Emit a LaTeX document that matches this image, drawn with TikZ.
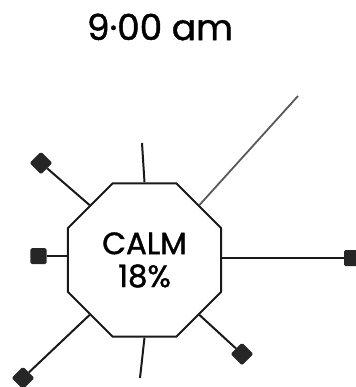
\documentclass[tikz,border=0pt]{standalone}
\usepackage{fontspec}
\setmainfont{Poppins}[UprightFeatures={FakeBold=1.2}]
\usetikzlibrary{shapes.geometric}

\begin{document}
\begin{tikzpicture}[
      x=1bp, y=-1bp,
      dial/.style={regular polygon, regular polygon sides=8,
        minimum size=166bp, inner sep=0pt, draw=black!90,
        line width=2bp, fill=white, align=center,
        font=\fontsize{31}{33}\selectfont},
      sqbox/.style={rectangle, fill=black!85, minimum size=16bp,
        inner sep=0pt, rounded corners=1.5bp},
      spoke/.style={draw=black!90, line width=2bp},
      gust/.style={draw=black!65, line width=1.8bp}
    ]
    \useasboundingbox (0,0) rectangle (356,387);

    \node[font=\fontsize{36}{38}\selectfont] (time) at (160,27) {9·00 am};

    \node[dial] (calm) at (144.5,260) {CALM\\18\%};

    % stations round the dial
    \node[sqbox, rotate=45] (nw) at (41,163) {};
    \node[sqbox] (w) at (38.5,256) {};
    \node[sqbox, rotate=45] (sw) at (23,378) {};
    \node[sqbox, rotate=45] (se) at (242,354) {};
    \node[sqbox] (e) at (352,258) {};
    \coordinate (ntop) at (142,143);
    \coordinate (nbot) at (140,378);
    \coordinate (far) at (298,96);

    \draw[spoke] (calm.90) -- (ntop);
    \draw[spoke] (calm.270) -- (nbot);
    \draw[spoke] (calm.135) -- (nw);
    \draw[spoke] (calm.225) -- (sw);
    \draw[spoke] (calm.315) -- (se);
    \draw[spoke] (w) -- (w -| calm.west);
    \draw[spoke] (e) -- (e -| calm.east);
    \draw[gust] (calm.45) -- (far);
  \end{tikzpicture}
\end{document}
